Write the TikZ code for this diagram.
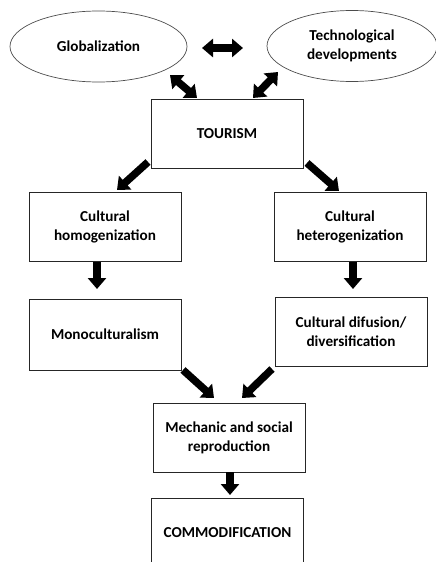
\documentclass[tikz,border=0pt]{standalone}
\usepackage{fontspec}
\setmainfont{Carlito}
\usetikzlibrary{arrows.meta,shapes.geometric}
\tikzset{
  box/.style={draw=black!85, line width=0.9pt, minimum width=152pt, minimum height=69pt, inner sep=0pt, align=center, font=\bfseries\fontsize{15.2}{19}\selectfont},
  ell/.style={draw=black!70, line width=0.7pt, ellipse, inner sep=0pt, align=center, font=\bfseries\fontsize{15.2}{19}\selectfont},
  barrow/.style={line width=7.5pt, -{Triangle[width=18pt,length=11pt]}},
  darrow/.style={line width=7.5pt, {Triangle[width=18pt,length=11pt]}-{Triangle[width=18pt,length=11pt]}},
}
\begin{document}
\begin{tikzpicture}[x=1pt,y=-1pt]
\useasboundingbox (0,0) rectangle (436,562);
\node[ell, minimum width=177pt, minimum height=71pt] (glob) at (98.5,46.5) {Globalization};
\node[ell, minimum width=170pt, minimum height=71pt] (tech) at (352,46) {Technological\\developments};
\node[box] (tour) at (227,133.5) {TOURISM};
\node[box] (hom) at (105,226.5) {Cultural\\homogenization};
\node[box] (het) at (350,226.5) {Cultural\\heterogenization};
\node[box, minimum height=71pt] (mono) at (105,334.5) {Monoculturalism};
\node[box] (dif) at (351,331.5) {Cultural difusion/\\diversification};
\node[box] (mech) at (229,437.5) {Mechanic and social\\reproduction};
\node[box] (comm) at (227.5,532.5) {COMMODIFICATION};
% arrow endpoints
\coordinate (gt1) at (202,48); \coordinate (gt2) at (243,48);
\coordinate (g1) at (170,75); \coordinate (g2) at (197,98);
\coordinate (t1) at (278,72); \coordinate (t2) at (253,98);
\coordinate (h1) at (148,162); \coordinate (h2) at (117,190);
\coordinate (e1) at (307,163); \coordinate (e2) at (339,191);
\coordinate (m1) at (97,262); \coordinate (m2) at (97,289);
\coordinate (d1) at (353,262); \coordinate (d2) at (353,289);
\coordinate (mm1) at (183,370); \coordinate (mm2) at (214,398);
\coordinate (dm1) at (272,369); \coordinate (dm2) at (242,398);
\coordinate (c1) at (230,472); \coordinate (c2) at (230,495);
\draw[darrow] (gt1) -- (gt2);
\draw[darrow] (g1) -- (g2);
\draw[darrow] (t1) -- (t2);
\draw[barrow] (h1) -- (h2);
\draw[barrow] (e1) -- (e2);
\draw[barrow] (m1) -- (m2);
\draw[barrow] (d1) -- (d2);
\draw[barrow] (mm1) -- (mm2);
\draw[barrow] (dm1) -- (dm2);
\draw[barrow] (c1) -- (c2);
\end{tikzpicture}
\end{document}
